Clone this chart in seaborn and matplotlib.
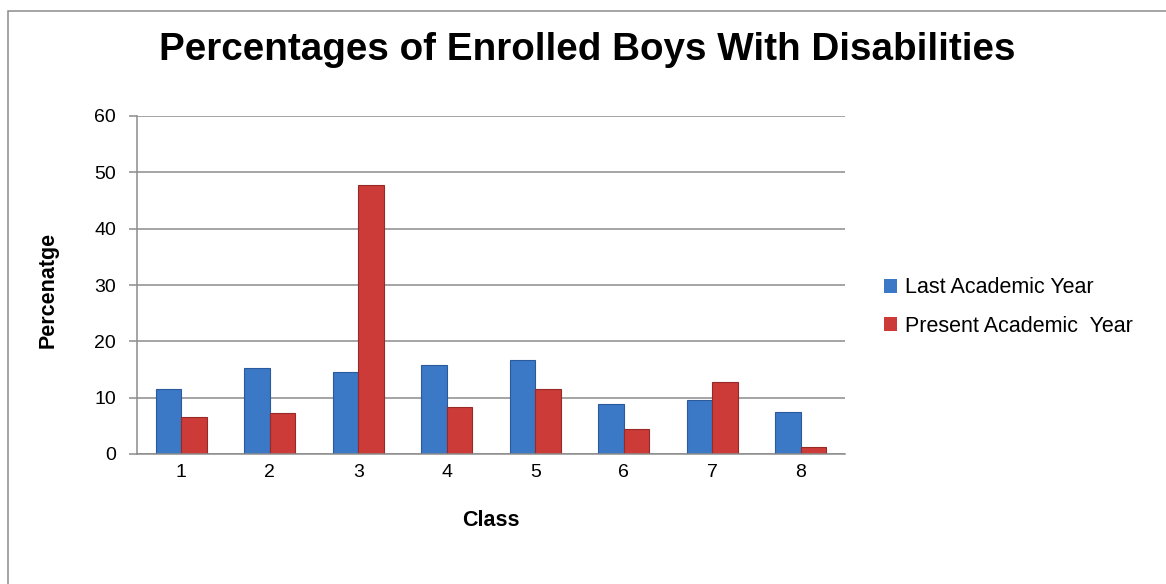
import numpy as np
import pandas as pd
import seaborn as sns
import matplotlib.pyplot as plt
from matplotlib.patches import Rectangle

# ================= DATA =================
CLASSES = ["1", "2", "3", "4", "5", "6", "7", "8"]
LAST_YEAR = [11.6, 15.3, 14.6, 15.8, 16.6, 8.8, 9.6, 7.5]
PRESENT_YEAR = [6.5, 7.35, 47.8, 8.4, 11.6, 4.35, 12.8, 1.2]
SERIES = ["Last Academic Year", "Present Academic  Year"]
Y_TICKS = [0, 10, 20, 30, 40, 50, 60]
# ========================================

df = pd.DataFrame({
    "Class": CLASSES * 2,
    "Percentage": LAST_YEAR + PRESENT_YEAR,
    "Year": [SERIES[0]] * len(CLASSES) + [SERIES[1]] * len(CLASSES),
})

sns.set_style("white")
plt.rcParams["font.family"] = ["Liberation Sans", "DejaVu Sans"]
plt.rcParams["text.color"] = "black"
plt.rcParams["xtick.color"] = "black"
plt.rcParams["ytick.color"] = "black"

W, H = 1166, 584
fig = plt.figure(figsize=(W / 100, H / 100), dpi=100)
ax = fig.add_axes([137 / W, 1 - 454 / H, (845 - 137) / W, (454 - 116) / H])

sns.barplot(
    data=df, x="Class", y="Percentage", hue="Year",
    order=CLASSES, hue_order=SERIES,
    palette=["#3b78c6", "#cc3b38"], saturation=1,
    width=0.58, gap=0, errorbar=None, ax=ax,
    linewidth=0,
)

# darker edges to hint at the bevelled look
for bar, col in zip(ax.patches, ["#2a5a9c"] * 8 + ["#952a27"] * 8):
    bar.set_edgecolor(col)
    bar.set_linewidth(0.8)

ax.set_ylim(0, 60)
ax.set_xlim(-0.5, len(CLASSES) - 0.5)
ax.set_yticks(Y_TICKS)
ax.yaxis.grid(True, color="#8c8c8c", linewidth=1.1)
ax.set_axisbelow(True)

for side in ["top", "right"]:
    ax.spines[side].set_visible(False)
for side in ["left", "bottom"]:
    ax.spines[side].set_color("#8c8c8c")
    ax.spines[side].set_linewidth(1.1)

ax.tick_params(axis="y", length=6, width=1.1, color="#8c8c8c", labelcolor="black",
               pad=9, labelsize=14, left=True)
ax.tick_params(axis="x", length=0, pad=7, labelsize=14, labelcolor="black")

ax.set_xlabel("")
ax.set_ylabel("")
fig.text(48 / W, 1 - 290 / H, "Percenatge", rotation=90, ha="center", va="center",
         fontsize=15.5, fontweight="bold")
fig.text(491 / W, 1 - 520 / H, "Class", ha="center", va="center",
         fontsize=15.5, fontweight="bold")

fig.text(587 / W, 1 - 50 / H, "Percentages of Enrolled Boys With Disabilities",
         ha="center", va="center", fontsize=27.8, fontweight="bold")

leg = ax.legend(
    loc="center left", bbox_to_anchor=(873 / W, 1 - 307 / H),
    bbox_transform=fig.transFigure, frameon=False, fontsize=15.5,
    handlelength=0.6, handleheight=0.6, handletextpad=0.4,
    labelspacing=0.8, borderpad=0,
)

# outer chart frame
fig.add_artist(Rectangle((8 / W, -0.05), 1.1, 1 - 11 / H + 0.05,
                         transform=fig.transFigure, fill=False,
                         edgecolor="#8c8c8c", linewidth=1.1))

fig.savefig("out.png", dpi=100)
